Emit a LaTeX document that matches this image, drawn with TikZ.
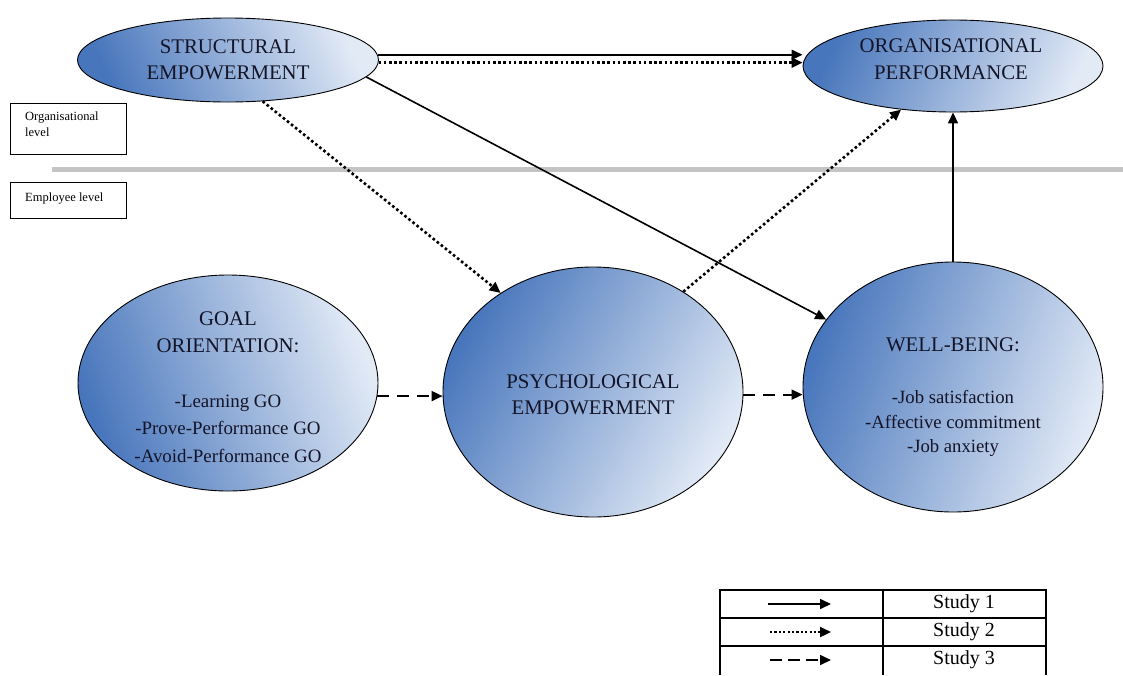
\documentclass[tikz,border=0pt]{standalone}
\usepackage{fontspec}
\setmainfont{Liberation Serif}
\usetikzlibrary{arrows.meta,shapes.geometric,calc}
\definecolor{bdark}{RGB}{72,118,188}
\definecolor{blight}{RGB}{226,234,246}
\definecolor{sepgray}{RGB}{196,196,196}
\definecolor{txtc}{RGB}{20,20,40}
\pgfdeclarehorizontalshading{bshade}{100bp}{color(0bp)=(bdark); color(25bp)=(bdark); color(75bp)=(blight); color(100bp)=(blight)}
\begin{document}
\begin{tikzpicture}[x=1pt,y=-1pt,
  ell/.style={ellipse, draw=black, line width=0.9pt, shading=bshade, inner sep=0pt},
  captxt/.style={font=\fontsize{20.8}{26.5}\selectfont, align=center, text=txtc, inner sep=0pt},
  bodytxt/.style={font=\fontsize{18.9}{27.4}\selectfont, align=center, text=txtc, inner sep=0pt},
  smalltxt/.style={font=\fontsize{12.5}{15.5}\selectfont, align=left, text=black, inner sep=0pt},
  lvlbox/.style={draw=black, line width=1pt, inner sep=0pt},
  tip/.style={-{Triangle[length=11pt,width=10pt]}},
  sol/.style={tip, line width=1.6pt},
  dotl/.style={tip, line width=2.6pt, dash pattern=on 2.6pt off 2.6pt},
  dashl/.style={tip, line width=1.8pt, dash pattern=on 12pt off 8pt},
  legdash/.style={tip, line width=1.6pt, dash pattern=on 12pt off 6pt},
]
\useasboundingbox (0,0) rectangle (1123,675);

% separator
\draw[line width=5pt, sepgray] (52,169) -- (1123,169);

% level boxes
\node[lvlbox, minimum width=116pt, minimum height=51pt] (olbox) at (68,128.5) {};
\node[smalltxt, anchor=north west] (oltxt) at (25,112) {Organisational\\level};
\node[lvlbox, minimum width=116pt, minimum height=36pt] (elbox) at (68,200) {};
\node[smalltxt, anchor=west] (eltxt) at (25,198.5) {Employee level};

% ellipses
\node[ell, shading angle=25, minimum width=301pt, minimum height=84pt] (se) at (228,60) {};
\node[captxt] (set) at (228,60) {STRUCTURAL\\EMPOWERMENT};

\node[ell, shading angle=-25, minimum width=300pt, minimum height=92pt] (op) at (953,66) {};
\node[captxt] (opt) at (951,59) {ORGANISATIONAL\\PERFORMANCE};

\node[ell, shading angle=20, minimum width=300pt, minimum height=216pt] (go) at (228,383) {};
\node[bodytxt] (got) at (228,387) {{\fontsize{20.8}{27.4}\selectfont GOAL}\\{\fontsize{20.8}{27.4}\selectfont ORIENTATION:}\\[27.4pt]-Learning GO\\-Prove-Performance GO\\-Avoid-Performance GO};

\node[ell, shading angle=-30, minimum width=300pt, minimum height=250pt] (pe) at (593,392) {};
\node[captxt] (pet) at (593,395) {PSYCHOLOGICAL\\EMPOWERMENT};

\node[ell, shading angle=-20, minimum width=300pt, minimum height=250pt] (wb) at (953,387) {};
\node[bodytxt, font=\fontsize{18.7}{24.5}\selectfont] (wbt) at (953,397) {{\fontsize{20.8}{24.5}\selectfont WELL-BEING:}\\[28pt]-Job satisfaction\\-Affective commitment\\-Job anxiety};

% connectors
\draw[sol] (se.2) -- (se.2 -| op.west);
\draw[dotl] (se.-1) -- (se.-1 -| op.west);
\draw[sol] (se.-7.6) -- (wb.152);
\draw[dotl] (se.-50) -- (pe.133);
\draw[dotl] (pe.48) -- (op.220);
\draw[sol] (wb.north) -- (op.south);
\draw[dashl] (go.-5) -- (go.-5 -| pe.west);
\draw[dashl] (pe.-1) -- (pe.-1 -| wb.west);

% legend
\draw[line width=1.1pt] (720,675) -- (720,590) -- (1046,590) -- (1046,675);
\draw[line width=1.1pt] (720,618) -- (1046,618);
\draw[line width=1.1pt] (720,646) -- (1046,646);
\draw[line width=1.1pt] (883,590) -- (883,675);
\coordinate (l1a) at (768,604); \coordinate (l1b) at (831,604);
\coordinate (l2a) at (770,632); \coordinate (l2b) at (831,632);
\coordinate (l3a) at (770,660); \coordinate (l3b) at (831,660);
\draw[sol] (l1a) -- (l1b);
\draw[dotl, line width=2.2pt, dash pattern=on 2.2pt off 2.2pt] (l2a) -- (l2b);
\draw[legdash] (l3a) -- (l3b);
\node[font=\fontsize{20}{22}\selectfont, inner sep=0pt] (s1) at (964,604) {Study 1};
\node[font=\fontsize{20}{22}\selectfont, inner sep=0pt] (s2) at (964,632) {Study 2};
\node[font=\fontsize{20}{22}\selectfont, inner sep=0pt] (s3) at (964,660) {Study 3};
\end{tikzpicture}
\end{document}
